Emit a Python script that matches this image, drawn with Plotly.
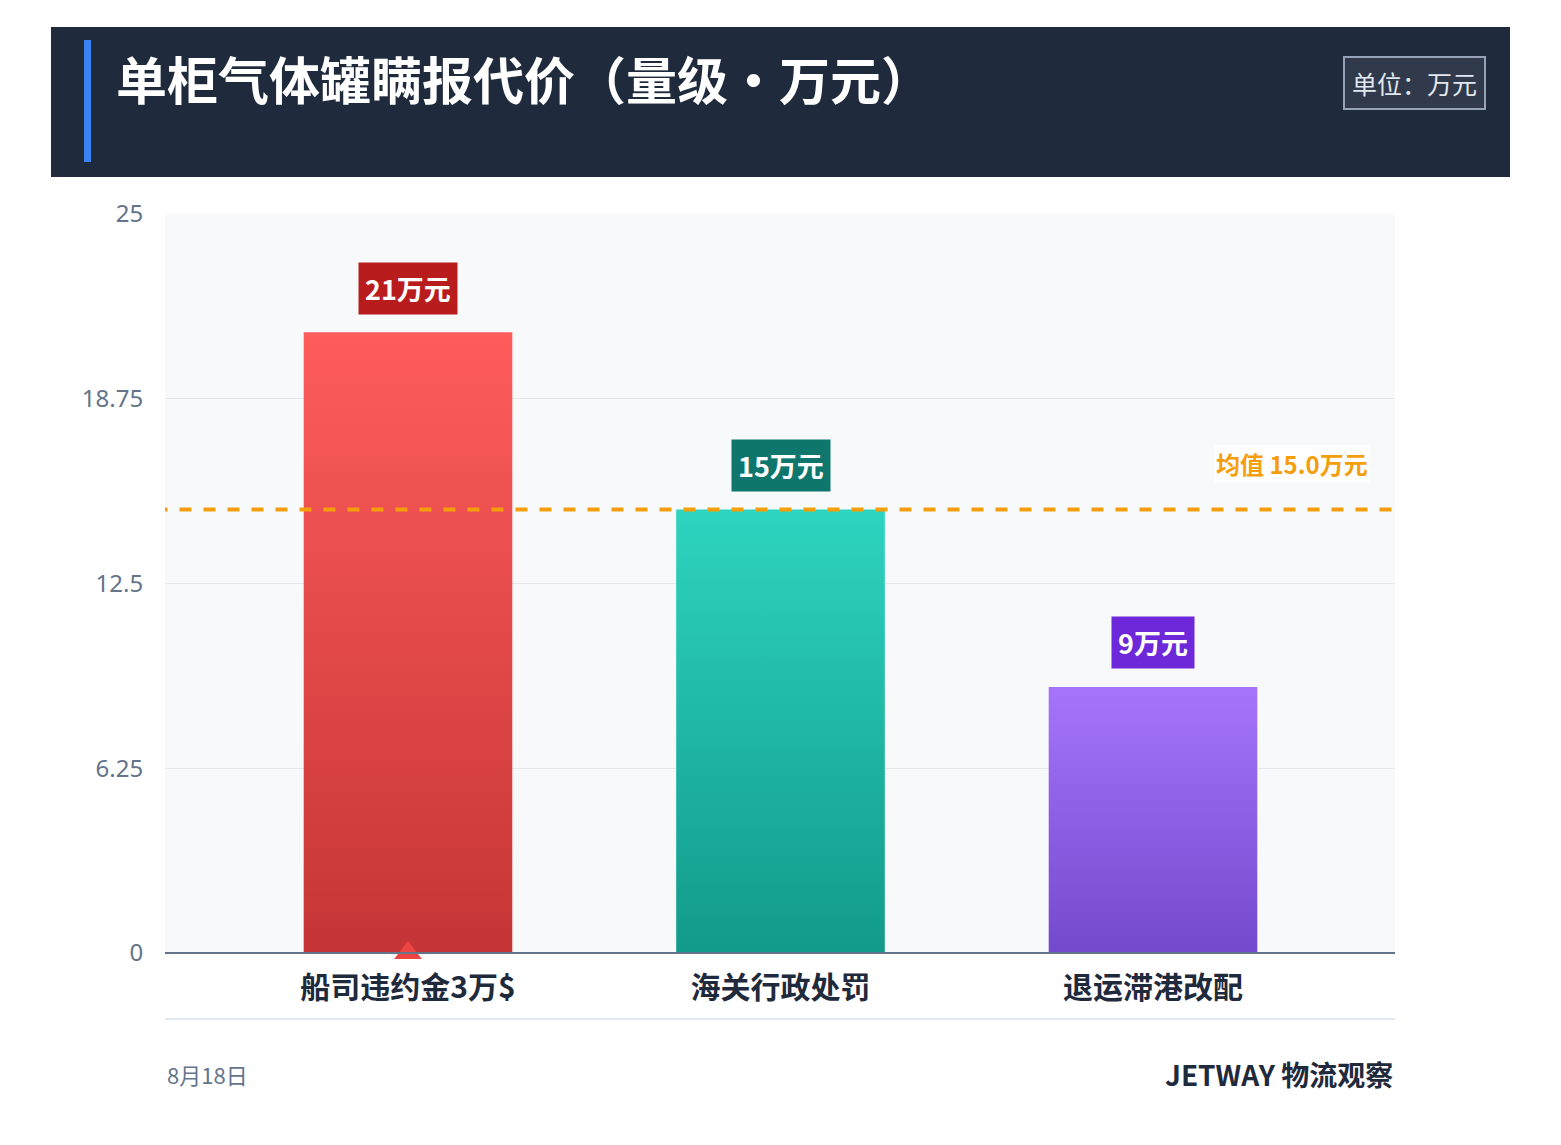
import plotly.graph_objects as go

categories = ["船司违约金3万$", "海关行政处罚", "退运滞港改配"]
values = [21, 15, 9]
labels = ["21万元", "15万元", "9万元"]
mean_value = 15.0
y_ticks = [0, 6.25, 12.5, 18.75, 25]

top_colors = ["#ff5c5c", "#2dd4bf", "#a574fa"]
bot_colors = ["#c53535", "#129a8a", "#7549cc"]
badge_colors = ["#b91c1c", "#0f766e", "#6d28d9"]

OFF = 8
W, H = 1561 - 2 * OFF, 1145 - 2 * OFF
L, R, T, B = 165, 1395, 214, 953  # page coordinates
pw, ph = R - L, B - T
def px(x): return (x - L) / pw
def py(y): return (B - y) / ph

FONT = "Noto Sans CJK SC"
fig = go.Figure()
hw = 0.28
for i, (c, v) in enumerate(zip(categories, values)):
    fig.add_trace(go.Scatter(
        x=[i - hw, i + hw, i + hw, i - hw, i - hw], y=[0, 0, v, v, 0],
        fill="toself", mode="lines", line=dict(width=0),
        fillgradient=dict(type="vertical", colorscale=[[0, bot_colors[i]], [1, top_colors[i]]]),
        hoverinfo="skip", showlegend=False))
    fig.add_annotation(x=i, y=v, yshift=44, text="<b>%s</b>" % labels[i], showarrow=False,
                       font=dict(family=FONT, size=27, color="white"), bgcolor=badge_colors[i],
                       borderpad=6, xref="x", yref="y")

fig.add_trace(go.Scatter(x=[-1, 3], y=[mean_value, mean_value], mode="lines",
                         line=dict(color="#f59e0b", width=4, dash="dash"), showlegend=False, hoverinfo="skip"))
fig.add_annotation(x=px(1370), xref="paper", xanchor="right", y=mean_value, yref="y", yshift=46,
                   text="<b>均值 %.1f万元</b>" % mean_value, showarrow=False,
                   font=dict(family=FONT, size=24, color="#f59e0b"), bgcolor="rgba(255,255,255,0.8)")
fig.add_trace(go.Scatter(x=[0], y=[0], mode="markers", marker=dict(symbol="triangle-up", size=24, color="#ef4444"),
                         showlegend=False, hoverinfo="skip", cliponaxis=False))

shapes = [
    dict(type="rect", xref="paper", yref="paper", x0=px(51), x1=px(1510), y0=py(177), y1=py(27),
         fillcolor="#1f2a3c", line=dict(width=0), layer="below"),
    dict(type="rect", xref="paper", yref="paper", x0=px(84), x1=px(91), y0=py(162), y1=py(40),
         fillcolor="#3b82f6", line=dict(width=0)),
    dict(type="line", xref="paper", yref="paper", x0=0, x1=1, y0=0, y1=0, line=dict(color="#64748b", width=2)),
    dict(type="line", xref="paper", yref="paper", x0=0, x1=1, y0=py(1019), y1=py(1019), line=dict(color="#e2e8f0", width=2)),
]
fig.update_layout(shapes=shapes)
fig.add_annotation(xref="paper", yref="paper", x=px(114), y=py(78), xanchor="left", yanchor="middle",
                   text="<b>单柜气体罐瞒报代价（量级•万元）</b>", showarrow=False,
                   font=dict(family=FONT, size=51, color="white"))
fig.add_annotation(xref="paper", yref="paper", x=px(1414), y=py(83), xanchor="center", yanchor="middle",
                   text="单位：万元", showarrow=False, font=dict(family=FONT, size=25, color="#e2e8f0"),
                   bordercolor="#94a3b8", borderwidth=2, borderpad=7, bgcolor="rgba(255,255,255,0.08)")
fig.add_annotation(xref="paper", yref="paper", x=0, y=py(1074), xanchor="left", yanchor="middle",
                   text="8月18日", showarrow=False, font=dict(family=FONT, size=22, color="#64748b"))
fig.add_annotation(xref="paper", yref="paper", x=1, y=py(1074), xanchor="right", yanchor="middle",
                   text="<b>JETWAY 物流观察</b>", showarrow=False, font=dict(family=FONT, size=28, color="#1f2a3c"))

spacing = 372.5
x_lo = -(408 - L) / spacing
x_hi = (R - 408) / spacing
fig.update_layout(
    width=W, height=H, margin=dict(l=L - OFF, r=1561 - OFF - R, t=T - OFF, b=1145 - OFF - B),
    paper_bgcolor="white", plot_bgcolor="#f8f9fb",
    xaxis=dict(range=[x_lo, x_hi], tickmode="array", tickvals=[0, 1, 2], ticktext=["<b>%s</b>" % c for c in categories],
               tickfont=dict(family=FONT, size=30, color="#1f2a3c"), showgrid=False, zeroline=False, ticklen=8,
               ticks="outside", tickcolor="rgba(0,0,0,0)"),
    yaxis=dict(range=[0, 25], tickvals=y_ticks, ticktext=[str(t) for t in y_ticks], gridcolor="#e5e7eb",
               tickfont=dict(family="Noto Sans", size=24, color="#64748b"), zeroline=False, ticks="outside",
               ticklen=16, tickcolor="rgba(0,0,0,0)"),
)
fig.write_html("out.html")
